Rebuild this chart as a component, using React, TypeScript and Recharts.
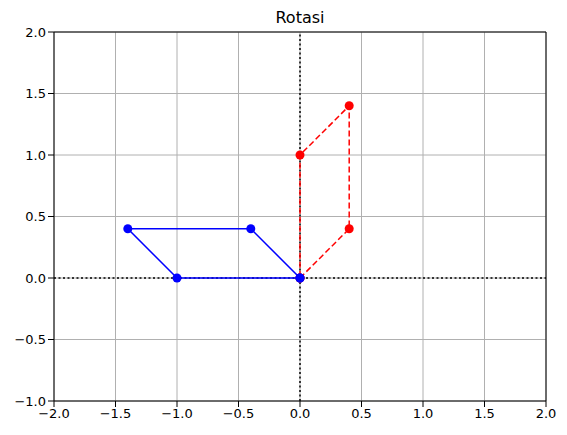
import React from "react";
import {
  ScatterChart, Scatter, XAxis, YAxis, CartesianGrid, ReferenceLine,
} from "recharts";

const original = [
  { x: 0, y: 0 },
  { x: -1, y: 0 },
  { x: -1.4, y: 0.4 },
  { x: -0.4, y: 0.4 },
  { x: 0, y: 0 },
];
const rotated = [
  { x: 0, y: 0 },
  { x: 0.4, y: 0.4 },
  { x: 0.4, y: 1.4 },
  { x: 0, y: 1 },
  { x: 0, y: 0 },
];
const xTicks = [-2, -1.5, -1, -0.5, 0, 0.5, 1, 1.5, 2];
const yTicks = [-1, -0.5, 0, 0.5, 1, 1.5, 2];

const fmt = (v: number) => v.toFixed(1).replace("-", "\u2212");
const dot = (color: string) => (p: any) => <circle cx={p.cx} cy={p.cy} r={4.5} fill={color} />;
const tick = { fontSize: 13, fill: "#000" };

export default function App() {
  return (
    <div style={{ position: "relative", width: 559, height: 427, fontFamily: "DejaVu Sans" }}>
      <div style={{ position: "absolute", left: 46, width: 492, top: 0, textAlign: "center", fontSize: 16 }}>
        Rotasi
      </div>
      <ScatterChart width={559} height={427} margin={{ top: 24, right: 21, left: 0, bottom: 0 }}>
        <CartesianGrid stroke="#b0b0b0" strokeWidth={1} />
        <XAxis type="number" dataKey="x" domain={[-2, 2]} ticks={xTicks} tickFormatter={fmt}
          tick={tick} stroke="#000" height={34} allowDataOverflow />
        <YAxis type="number" dataKey="y" domain={[-1, 2]} ticks={yTicks} tickFormatter={fmt}
          tick={tick} stroke="#000" width={46} allowDataOverflow />
        <ReferenceLine x={2} stroke="#000" />
        <ReferenceLine y={2} stroke="#000" />
        <ReferenceLine x={0} stroke="#000" strokeWidth={1.5} strokeDasharray="2 2.5" />
        <ReferenceLine y={0} stroke="#000" strokeWidth={1.5} strokeDasharray="2 2.5" />
        <Scatter data={rotated} line={{ stroke: "red", strokeWidth: 1.5, strokeDasharray: "6 3" }} shape={dot("red")} isAnimationActive={false} />
        <Scatter data={original} line={{ stroke: "blue", strokeWidth: 1.5 }} shape={dot("blue")} isAnimationActive={false} />
      </ScatterChart>
    </div>
  );
}
